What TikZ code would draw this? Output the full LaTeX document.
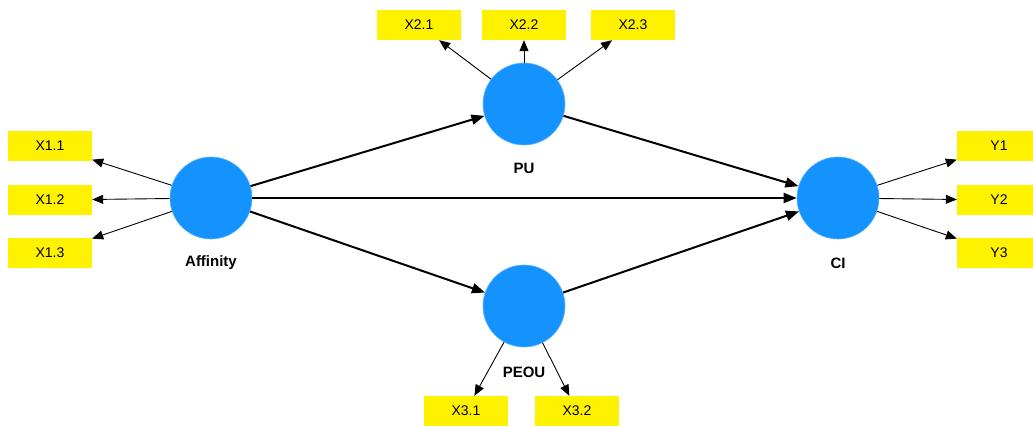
\documentclass[tikz,border=0pt]{standalone}
\usepackage{fontspec}
\setmainfont{Liberation Sans}
\usetikzlibrary{arrows.meta}
\begin{document}
\begin{tikzpicture}[x=1pt,y=-1pt,
  latent/.style={circle,fill=latblue,draw=latblue!70,line width=0.6pt,minimum size=82pt,inner sep=0pt},
  item/.style={rectangle,fill=yellow,minimum width=84pt,minimum height=30pt,inner sep=0pt,font=\fontsize{14}{16}\selectfont},
  lab/.style={font=\fontsize{15}{18}\selectfont\bfseries},
  load/.style={line width=0.9pt,-{Triangle[length=11pt,width=9pt]}},
  path/.style={line width=2pt,-{Triangle[length=13pt,width=10pt]}}]
\definecolor{latblue}{RGB}{20,147,255}
\useasboundingbox (0,0) rectangle (1033,426);

\node[latent] (aff) at (211,198) {};
\node[latent] (pu) at (524,104) {};
\node[latent] (peou) at (524,306) {};
\node[latent] (ci) at (838,198) {};

\node[lab] (affl) at (211,263) {Affinity};
\node[lab] (pul) at (524,168) {PU};
\node[lab] (peoul) at (524,372) {PEOU};
\node[lab] (cil) at (838,263) {CI};

\node[item] (x11) at (50,146) {X1.1};
\node[item] (x12) at (50,200) {X1.2};
\node[item] (x13) at (50,253) {X1.3};
\node[item] (x21) at (419,25) {X2.1};
\node[item] (x22) at (524,25) {X2.2};
\node[item] (x23) at (633,25) {X2.3};
\node[item] (x31) at (466,411) {X3.1};
\node[item] (x32) at (577,411) {X3.2};
\node[item] (y1) at (999,146) {Y1};
\node[item] (y2) at (999,200) {Y2};
\node[item] (y3) at (999,253) {Y3};

% loadings
\foreach \i in {x11,x12,x13} \draw[load] (aff) -- (\i);
\foreach \i in {x21,x22,x23} \draw[load] (pu) -- (\i);
\foreach \i in {x31,x32} \draw[load] (peou) -- (\i);
\foreach \i in {y1,y2,y3} \draw[load] (ci) -- (\i);

% structural paths
\draw[path] (aff) -- (pu);
\draw[path] (aff) -- (ci);
\draw[path] (aff) -- (peou);
\draw[path] (pu) -- (ci);
\draw[path] (peou) -- (ci);
\end{tikzpicture}
\end{document}
